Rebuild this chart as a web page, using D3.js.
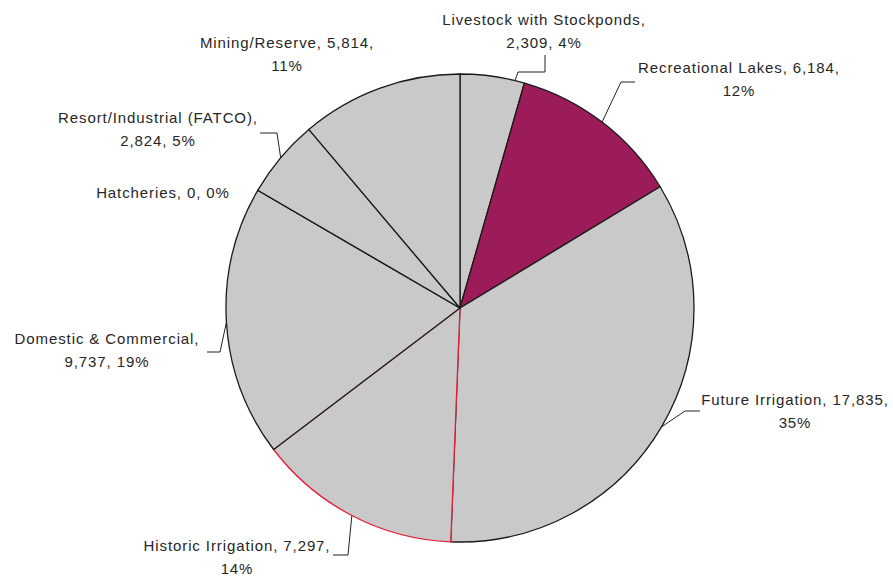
<!DOCTYPE html>
<html>
<head>
<meta charset="utf-8">
<script src="https://cdn.jsdelivr.net/npm/d3@7"></script>
<style>
  html, body { margin: 0; padding: 0; background: #fff; }
  svg { display: block; }
</style>
</head>
<body>
<script>
// ---- data ----
const categories = ["Livestock with Stockponds", "Recreational Lakes", "Future Irrigation", "Historic Irrigation",
                    "Domestic & Commercial", "Hatcheries", "Resort/Industrial (FATCO)", "Mining/Reserve"];
const values = [2309, 6184, 17835, 7297, 9737, 0, 2824, 5814];
const percents = ["4%", "12%", "35%", "14%", "19%", "0%", "5%", "11%"];

// ---- styling / layout (kept separate from data) ----
const fills   = ["#c9c9c9", "#9b1c58", "#c9c9c9", "#c9c9c9", "#c9c9c9", "#c9c9c9", "#c9c9c9", "#c9c9c9"];
const strokes = ["#1a1a1a", "#1a1a1a", "#1a1a1a", "#e0203a", "#1a1a1a", "#1a1a1a", "#1a1a1a", "#1a1a1a"];
// split: where to break label into two lines
const labelLayout = [
  { x: 544, y: 20,  split: "name",  elbow: [[545, 55], [545, 72], [518, 72]], frac: 0.85 },
  { x: 739, y: 68,  split: "value", elbow: [[635, 82], [621, 82]], frac: 0.5 },
  { x: 795, y: 400, split: "value", elbow: [[700, 411], [685, 411]], frac: 0.5 },
  { x: 237, y: 546, split: "value", elbow: [[333, 555], [348, 555]], frac: 0.5 },
  { x: 107, y: 339, split: "name",  elbow: [[207, 352], [220, 352]], frac: 0.5 },
  { x: 163, y: 193, split: "none",  elbow: null },
  { x: 158, y: 118, split: "name",  elbow: [[260, 133], [277, 133]], frac: 0.5 },
  { x: 287, y: 43,  split: "value", elbow: null }
];

const W = 893, H = 576;
const cx = 460, cy = 308, R = 234;
const lineGap = 23;

const svg = d3.select("body").append("svg")
  .attr("width", W).attr("height", H)
  .style("font-family", "'Liberation Sans', Arial, sans-serif");

const data = categories.map((c, i) => ({ name: c, value: values[i], pct: percents[i], i }));

const pie = d3.pie().sort(null).value(d => d.value).startAngle(0).endAngle(2 * Math.PI);
const arcs = pie(data);
const arc = d3.arc().innerRadius(0).outerRadius(R);

const g = svg.append("g").attr("transform", `translate(${cx},${cy})`);

g.selectAll("path.slice")
  .data(arcs)
  .join("path")
  .attr("class", "slice")
  .attr("d", arc)
  .attr("fill", d => fills[d.data.i])
  .attr("stroke", d => strokes[d.data.i])
  .attr("stroke-width", 1.3)
  .attr("stroke-linejoin", "round");

// labels
const fmt = d3.format(",");
const labelG = svg.append("g")
  .attr("font-size", 15)
  .attr("fill", "#262626")
  .style("letter-spacing", "0.9px")
  .attr("text-anchor", "middle");

arcs.forEach(a => {
  const d = a.data;
  const L = labelLayout[d.i];
  let lines;
  if (L.split === "name") lines = [d.name + ",", fmt(d.value) + ", " + d.pct];
  else if (L.split === "value") lines = [d.name + ", " + fmt(d.value) + ",", d.pct];
  else lines = [d.name + ", " + fmt(d.value) + ", " + d.pct];
  const t = labelG.append("text");
  lines.forEach((ln, k) => {
    t.append("tspan").attr("x", L.x).attr("y", L.y + 5 + k * lineGap).text(ln);
  });

  if (L.elbow) {
    const ang = a.startAngle + (a.endAngle - a.startAngle) * L.frac;
    const ax = cx + R * Math.sin(ang);
    const ay = cy - R * Math.cos(ang);
    const pts = L.elbow.concat([[ax, ay]]);
    svg.append("path")
      .attr("d", d3.line()(pts))
      .attr("fill", "none")
      .attr("stroke", "#222")
      .attr("stroke-width", 1);
  }
});
</script>
</body>
</html>
